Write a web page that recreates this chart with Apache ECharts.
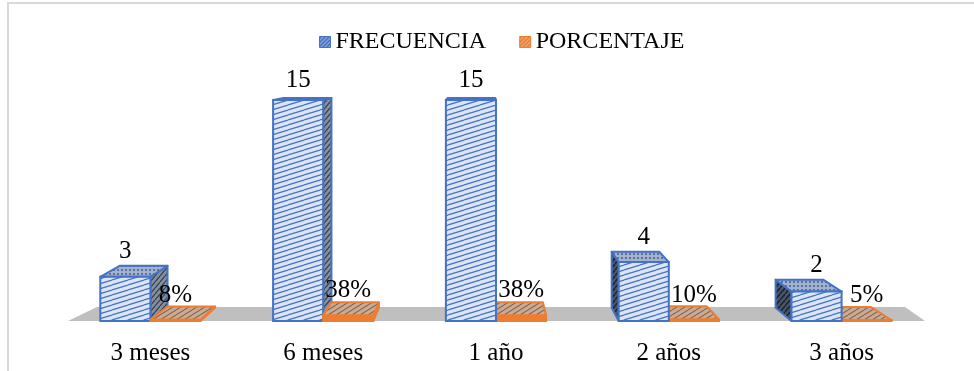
<!DOCTYPE html>
<html>
<head>
<meta charset="utf-8">
<script src="https://cdn.jsdelivr.net/npm/echarts@6/dist/echarts.min.js"></script>
<style>
html, body { margin: 0; padding: 0; background: #fff; }
#chart { width: 974px; height: 371px; }
</style>
</head>
<body>
<div id="chart"></div>
<script>
var categorias = ['3 meses', '6 meses', '1 año', '2 años', '3 años'];
var frecuencia = [3, 15, 15, 4, 2];
var porcentaje = [0.08, 0.38, 0.38, 0.10, 0.05];
var nombres = ['FRECUENCIA', 'PORCENTAJE'];

var FONT = '"Liberation Serif", "Times New Roman", serif';
// punto de fuga de la vista 3D y profundidad de las barras
var VP = [483, 62];
var DEPTH = 0.0515;

function hatch(bg, fg, w, h, lw) {
    var c = document.createElement('canvas');
    c.width = w; c.height = h;
    var g = c.getContext('2d');
    g.fillStyle = bg;
    g.fillRect(0, 0, w, h);
    g.strokeStyle = fg;
    g.lineWidth = lw;
    for (var k = -1; k <= 1; k++) {
        g.beginPath();
        g.moveTo(0, h + k * h);
        g.lineTo(w, k * h);
        g.stroke();
    }
    return { image: c, repeat: 'repeat' };
}

function dots(bg, fg, s, r) {
    var c = document.createElement('canvas');
    c.width = s; c.height = s;
    var g = c.getContext('2d');
    g.fillStyle = bg;
    g.fillRect(0, 0, s, s);
    g.fillStyle = fg;
    g.beginPath();
    g.arc(s / 2, s / 2, r, 0, Math.PI * 2);
    g.fill();
    return { image: c, repeat: 'repeat' };
}

var estilos = [
    { // FRECUENCIA
        edge: '#4472c4',
        front: hatch('#dbe5f5', '#4672c2', 16, 5, 1.2),
        top: dots('#a4b3cd', '#4a6396', 4, 1.1),
        sideR: hatch('#86909f', '#364152', 5, 6, 1.3),
        sideL: hatch('#4a5567', '#1c2430', 5, 6, 1.5),
        legend: hatch('#4472c4', '#c8d5ee', 4, 4, 1)
    },
    { // PORCENTAJE
        edge: '#ed7d31',
        front: '#ed7d31',
        top: hatch('#c9ab96', '#8e6a52', 8, 5, 1.2),
        sideR: '#d08a5a',
        sideL: '#b8734a',
        legend: hatch('#ed7d31', '#f8cbad', 4, 4, 1)
    }
];

function back(p) {
    return [p[0] + (VP[0] - p[0]) * DEPTH, p[1] + (VP[1] - p[1]) * DEPTH];
}

function make_render(s) {
    var st = estilos[s];
    return function (params, api) {
        var i = api.value(0);
        var v = api.value(1);
        var top = api.coord([i, v]);
        var base = api.coord([i, 0]);
        var bw = api.size([1, 0])[0] * 0.29;
        var x0 = s == 0 ? top[0] - bw : top[0];
        var x1 = x0 + bw;
        var fTL = [x0, top[1]], fTR = [x1, top[1]];
        var fBL = [x0, base[1]], fBR = [x1, base[1]];
        var bTL = back(fTL), bTR = back(fTR), bBL = back(fBL), bBR = back(fBR);

        // orden de dibujo: a la izquierda del punto de fuga va primero la frecuencia
        var left = top[0] < VP[0];
        var z = (s == 0) == left ? 0 : 10;

        var children = [];
        if (x1 < VP[0]) {
            children.push({ type: 'polygon', z2: z,
                shape: { points: [fTR, bTR, bBR, fBR] },
                style: { fill: st.sideR, stroke: st.edge, lineWidth: 2, lineJoin: 'round' } });
        } else if (x0 > VP[0]) {
            children.push({ type: 'polygon', z2: z,
                shape: { points: [fTL, bTL, bBL, fBL] },
                style: { fill: st.sideL, stroke: st.edge, lineWidth: 2, lineJoin: 'round' } });
        }
        children.push({ type: 'polygon', z2: z + 1,
            shape: { points: [fTL, fTR, bTR, bTL] },
            style: { fill: st.top, stroke: st.edge, lineWidth: 2, lineJoin: 'round' } });
        children.push({ type: 'rect', z2: z + 2,
            shape: { x: x0, y: top[1], width: bw, height: base[1] - top[1] },
            style: { fill: st.front, stroke: st.edge, lineWidth: 2 } });

        var txt, ty;
        if (s == 0) {
            txt = String(v);
            ty = Math.min(top[1] - 7, bTL[1] - 2);
        } else {
            txt = Math.round(v * 100) + '%';
            ty = top[1] - 12;
        }
        children.push({ type: 'text', z2: 100,
            style: { text: txt, x: (x0 + x1) / 2, y: ty,
                align: 'center', verticalAlign: 'bottom',
                fontSize: 25, fontFamily: FONT, fill: '#000' } });
        return { type: 'group', children: children };
    };
}

function to_data(arr) {
    var out = [];
    for (var i = 0; i < arr.length; i++) {
        out.push([i, arr[i]]);
    }
    return out;
}

var myChart = echarts.init(document.getElementById('chart'));
var option = {
    animation: false,
    backgroundColor: '#fff',
    legend: {
        left: 314,
        top: 25,
        itemWidth: 11,
        itemHeight: 11,
        itemGap: 33,
        icon: 'rect',
        textStyle: { fontSize: 24, fontFamily: FONT, color: '#000' },
        data: [
            { name: nombres[0], itemStyle: { color: estilos[0].legend, borderColor: '#4472c4', borderWidth: 1 } },
            { name: nombres[1], itemStyle: { color: estilos[1].legend, borderColor: '#ed7d31', borderWidth: 1 } }
        ]
    },
    grid: { left: 64, right: 46, top: 100, bottom: 50 },
    xAxis: {
        type: 'category',
        data: categorias,
        axisLine: { show: false },
        axisTick: { show: false },
        axisLabel: { fontSize: 25, fontFamily: FONT, color: '#000', margin: 20 }
    },
    yAxis: {
        type: 'value',
        min: 0,
        max: 15,
        show: false
    },
    graphic: [
        { type: 'rect', z: 0, shape: { x: 8, y: 3, width: 1000, height: 420 },
          style: { fill: 'none', stroke: '#d9d9d9', lineWidth: 2 } },
        // piso gris
        { type: 'polygon', z: 0, shape: { points: [[68, 321], [925, 321], [905, 307], [97, 307]] },
          style: { fill: '#bfbfbf' } }
    ],
    series: [
        {
            name: nombres[0],
            type: 'custom',
            z: 5,
            itemStyle: { color: '#4472c4' },
            renderItem: make_render(0),
            encode: { x: 0, y: 1 },
            data: to_data(frecuencia)
        },
        {
            name: nombres[1],
            type: 'custom',
            z: 5,
            itemStyle: { color: '#ed7d31' },
            renderItem: make_render(1),
            encode: { x: 0, y: 1 },
            data: to_data(porcentaje)
        }
    ]
};
myChart.setOption(option);
</script>
</body>
</html>
